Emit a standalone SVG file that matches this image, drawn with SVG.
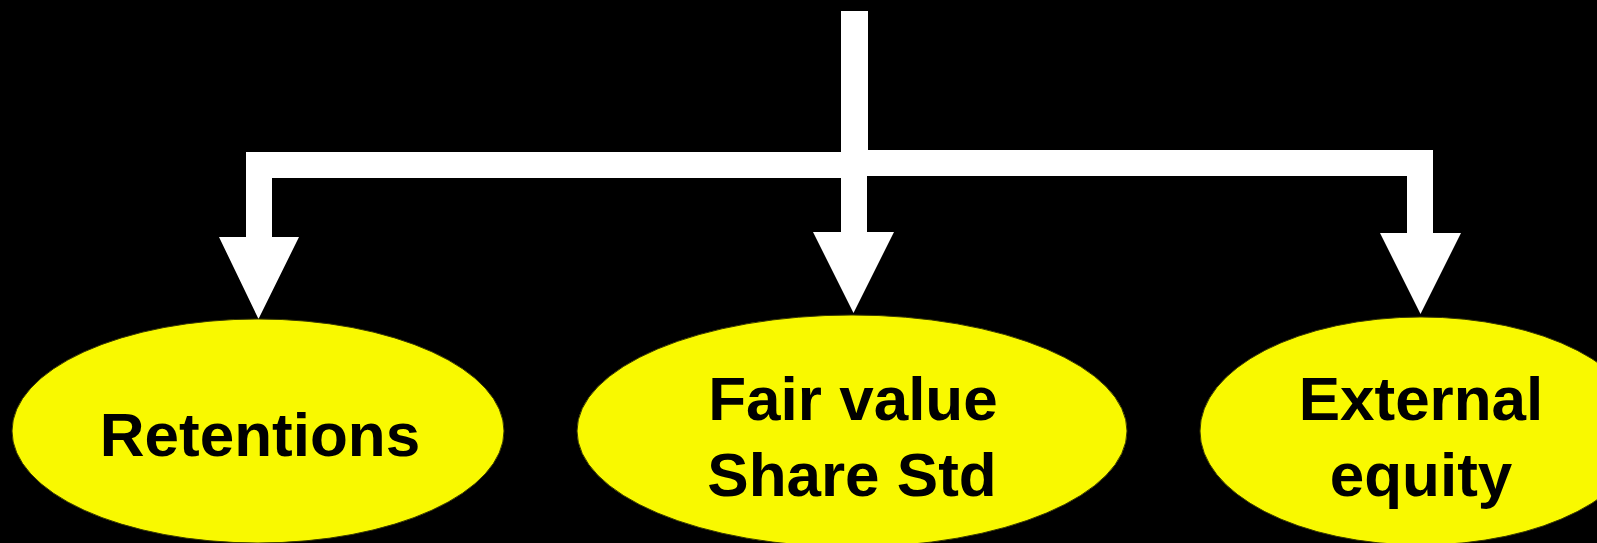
<svg xmlns="http://www.w3.org/2000/svg" width="1597" height="543" viewBox="0 0 1597 543">
<style>
.bg{fill:#000000}
.arrow{fill:#FFFFFF;stroke:none}
.node ellipse{fill:#F9F900;stroke:#3a3a00;stroke-width:1}
.node text{font-family:"Liberation Sans",Arial,sans-serif;font-weight:bold;font-size:62px;fill:#000000;text-anchor:middle}
</style>
<rect class="bg" x="0" y="0" width="1597" height="543"/>
<g id="connectors">
<rect class="arrow" x="841" y="11" width="27" height="150"/>
<polygon class="arrow" points="854,152 246,152 246,237 219,237 258.5,319 299,237 272,237 272,178 854,178"/>
<polygon class="arrow" points="841,160 867,160 867,232 894,232 853.5,313 813,232 841,232"/>
<polygon class="arrow" points="854,150 1433,150 1433,233 1461,233 1420.5,314 1380,233 1407,233 1407,176 854,176"/>
</g>
<g id="node-retentions" class="node">
<ellipse cx="258" cy="431" rx="246" ry="112"/>
<text x="260" y="456">Retentions</text>
</g>
<g id="node-fairvalue" class="node">
<ellipse cx="852" cy="431" rx="275" ry="116"/>
<text x="853" y="420">Fair value</text>
<text x="852" y="496">Share Std</text>
</g>
<g id="node-external" class="node">
<ellipse cx="1421" cy="431" rx="221" ry="114"/>
<text x="1421" y="420">External</text>
<text x="1421" y="496">equity</text>
</g>
</svg>
